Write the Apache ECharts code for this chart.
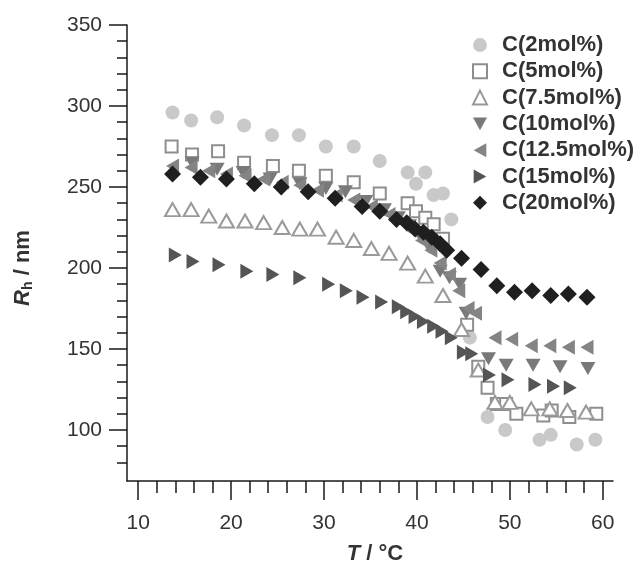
<!DOCTYPE html>
<html>
<head>
<meta charset="utf-8">
<script src="https://cdn.jsdelivr.net/npm/echarts@6/dist/echarts.min.js"></script>
<style>html,body{margin:0;padding:0;background:#fff}#c{width:636px;height:561px}</style>
</head>
<body>
<div id="c"></div>
<script>
// ---- data (T in °C, Rh in nm) ----
const seriesNames = ['C(2mol%)','C(5mol%)','C(7.5mol%)','C(10mol%)','C(12.5mol%)','C(15mol%)','C(20mol%)'];

const c2T = [13.7,15.7,18.5,21.4,24.4,27.3,30.2,33.2,36.0,39.0,39.9,40.9,41.8,42.8,43.7,45.7,47.6,49.5,53.2,54.4,57.2,59.2];
const c2R = [296,291,293,288,282,282,275,275,266,259,252,259,245,246,230,157,108,100,94,97,91,94];

const c5T = [13.6,15.8,18.6,21.4,24.5,27.3,30.2,33.2,36.0,39.0,39.9,40.9,41.8,42.8,45.4,46.6,47.6,48.6,49.6,50.7,53.6,54.5,56.4,59.3];
const c5R = [275,270,272,265,263,260,257,253,246,240,235,231,227,218,165,139,126,116,116,110,109,112,108,110];

const c75T = [13.7,15.7,17.6,19.5,21.5,23.5,25.5,27.4,29.3,31.3,33.2,35.1,37.0,39.0,40.9,42.8,44.8,46.6,48.4,50.0,52.3,54.3,56.2,58.2];
const c75R = [236,236,232,229,229,228,225,224,224,219,217,212,209,203,195,183,162,137,117,117,113,113,112,111];

const c10T = [15.8,18.5,21.3,24.2,27.4,30.2,32.3,34.5,36.5,38.0,39.2,40.3,41.3,42.5,43.5,44.6,45.3,47.7,49.6,52.5,55.4,58.4];
const c10R = [265,261,259,255,252,249,247,241,236,231,226,220,213,198,194,190,172,144,140,140,139,138];

const c125T = [13.7,15.7,17.6,19.5,21.5,23.5,25.5,27.4,29.3,31.3,33.2,35.1,37.0,38.5,39.5,40.5,41.5,42.5,43.5,44.5,45.5,46.3,48.4,50.2,52.3,54.3,56.3,58.3];
const c125R = [263,262,260,258,257,255,253,251,248,245,242,238,233,228,223,217,211,203,196,186,175,172,157,156,152,152,151,151];

const c15T = [14.0,15.9,18.7,21.7,24.5,27.4,30.5,32.4,34.2,36.2,38.0,38.9,39.8,40.7,41.8,42.7,43.7,45.0,45.9,47.8,49.8,52.7,54.7,56.5];
const c15R = [208,204,202,198,196,194,190,186,182,179,176,173,170,167,164,161,157,148,147,134,131,128,127,126];

const c20T = [13.7,16.7,19.5,22.5,25.4,28.3,31.2,34.1,36.0,37.8,38.9,39.8,40.7,41.6,42.5,43.2,44.8,46.9,48.6,50.5,52.4,54.4,56.3,58.3];
const c20R = [258,256,255,252,250,247,243,238,235,230,228,224,222,219,215,211,206,199,189,185,186,183,184,182];

// ---- ticks ----
const xMajor = [10,20,30,40,50,60];
const xMinor = [12,14,16,18,22,24,26,28,32,34,36,38,42,44,46,48,52,54,56,58];
const yMajor = [100,150,200,250,300,350];
const yMinor = [80,90,110,120,130,140,160,170,180,190,210,220,230,240,260,270,280,290,310,320,330,340];

function pairs(t, r){ return t.map((v,i)=>[v, r[i]]); }

const FONT = '"Liberation Sans", Arial, sans-serif';
const AX = '#1a1a1a';

const styles = [
  {symbol:'circle', size:14, rot:0, color:'#c9c9c9', icon:'circle', data:pairs(c2T,c2R)},
  {symbol:'emptyRect', size:12, rot:0, color:'#8e8e8e', icon:'emptyRect', data:pairs(c5T,c5R)},
  {symbol:'emptyTriangle', size:[15,13], rot:0, color:'#9a9a9a', icon:'emptyTriangle', data:pairs(c75T,c75R)},
  {symbol:'triangle', size:[15,13], rot:180, color:'#797979', icon:'path://M0,0L10,0L5,9Z', data:pairs(c10T,c10R)},
  {symbol:'triangle', size:[15,13], rot:90, color:'#848484', icon:'path://M9,0L9,10L0,5Z', data:pairs(c125T,c125R)},
  {symbol:'triangle', size:[15,13], rot:-90, color:'#555555', icon:'path://M0,0L9,5L0,10Z', data:pairs(c15T,c15R)},
  {symbol:'diamond', size:17, rot:0, color:'#1f1f1f', icon:'diamond', data:pairs(c20T,c20R)}
];

const chart = echarts.init(document.getElementById('c'), null, {renderer:'canvas'});
chart.setOption({
  animation:false,
  backgroundColor:'#fff',
  grid:{left:127, right:23, top:25, bottom:80, containLabel:false, outerBoundsMode:'none'},
  legend:{
    orient:'vertical', left:467, top:29, itemGap:4.3,
    itemWidth:14, itemHeight:14,
    textStyle:{fontFamily:FONT, fontWeight:'bold', fontSize:22, color:'#333', lineHeight:22, padding:[0,0,0,10]},
    data: seriesNames.map((n,i)=>({name:n, icon:styles[i].icon}))
  },
  xAxis:[{
    type:'value', min:8.8, max:61.1, position:'bottom',
    axisLine:{show:true, lineStyle:{color:AX, width:1.5}},
    axisTick:{show:true, customValues:xMajor, length:19, lineStyle:{color:AX, width:1.5}},
    axisLabel:{customValues:xMajor, fontFamily:FONT, fontSize:21, color:'#333', margin:32},
    splitLine:{show:false},
    name:'{i|T}{n| / °C}', nameLocation:'middle', nameGap:62,
    nameTextStyle:{padding:[0,0,0,10], rich:{
      i:{fontFamily:FONT, fontSize:22, fontWeight:'bold', fontStyle:'italic', color:'#333'},
      n:{fontFamily:FONT, fontSize:22, fontWeight:'bold', color:'#333'}
    }}
  },{
    type:'value', min:8.8, max:61.1, position:'bottom',
    axisLine:{show:false},
    axisTick:{show:true, customValues:xMinor, length:12, lineStyle:{color:AX, width:1.5}},
    axisLabel:{show:false}, splitLine:{show:false}
  }],
  yAxis:[{
    type:'value', min:68.5, max:350, position:'left',
    axisLine:{show:true, lineStyle:{color:AX, width:1.5}},
    axisTick:{show:true, customValues:yMajor, length:18, lineStyle:{color:AX, width:1.5}},
    axisLabel:{customValues:yMajor, fontFamily:FONT, fontSize:21, color:'#333', margin:25},
    splitLine:{show:false},
    name:'{i|R}{s|h}{n| / nm}', nameLocation:'middle', nameGap:92, nameRotate:90,
    nameTextStyle:{padding:[0,30,0,0], rich:{
      i:{fontFamily:FONT, fontSize:22, fontWeight:'bold', fontStyle:'italic', color:'#333'},
      s:{fontFamily:FONT, fontSize:14, fontWeight:'bold', color:'#333', verticalAlign:'bottom', padding:[10,0,0,0]},
      n:{fontFamily:FONT, fontSize:22, fontWeight:'bold', color:'#333'}
    }}
  },{
    type:'value', min:68.5, max:350, position:'left',
    axisLine:{show:false},
    axisTick:{show:true, customValues:yMinor, length:10, lineStyle:{color:AX, width:1.5}},
    axisLabel:{show:false}, splitLine:{show:false}
  }],
  series: styles.map((s,i)=>({
    name:seriesNames[i], type:'scatter', xAxisIndex:0, yAxisIndex:0,
    symbol:s.symbol, symbolSize:s.size, symbolRotate:s.rot,
    itemStyle:{color:s.color, borderColor:s.color, borderWidth:s.symbol.startsWith('empty')?1.3:0, opacity:1},
    z:2+i,
    data:s.data
  }))
});
</script>
</body>
</html>
